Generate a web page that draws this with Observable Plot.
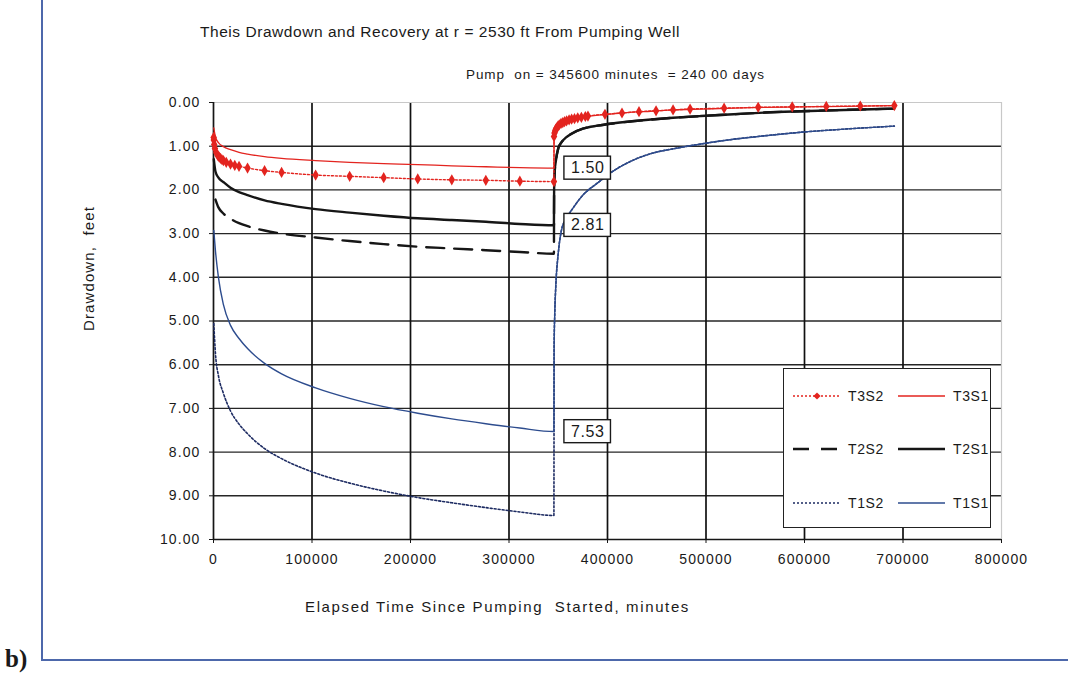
<!DOCTYPE html>
<html><head><meta charset="utf-8">
<script src="https://cdn.jsdelivr.net/npm/d3@7"></script>
<script src="https://cdn.jsdelivr.net/npm/@observablehq/plot@0.6"></script>
<style>
html,body{margin:0;padding:0;background:#fff;}
#wrap{position:relative;width:1068px;height:673px;overflow:hidden;font-family:"Liberation Sans",Arial,Helvetica,sans-serif;color:#1a1a1a;}
#wrap > svg{position:absolute;left:0;top:0;}
.ov{position:absolute;white-space:nowrap;line-height:1;}
</style></head><body><div id="wrap"></div>
<script>
// ---- data ----
const pumpOff = 345600;
const pumpTimes = [300, 2000, 5000, 10000, 17280, 25920, 34560, 51840, 69120, 103680, 138240, 172800, 207360, 241920, 276480, 311040, 345600];
const recTimes = [345800, 346500, 347500, 350000, 353000, 358000, 363000, 375000, 390000, 405000, 425000, 444000, 466560, 494900, 528000, 560000, 596500, 640000, 691200];

const t1s1Pump = [2.93, 3.40, 4.00, 4.62, 5.10, 5.40, 5.63, 5.97, 6.21, 6.53, 6.77, 6.96, 7.11, 7.24, 7.35, 7.45, 7.53];
const t1s1Rec  = [5.60, 4.80, 4.20, 3.45, 2.95, 2.65, 2.48, 2.12, 1.84, 1.58, 1.33, 1.17, 1.06, 0.95, 0.84, 0.76, 0.68, 0.61, 0.54];
const t1s2Pump = [5.06, 5.75, 6.25, 6.65, 7.06, 7.36, 7.58, 7.92, 8.15, 8.48, 8.71, 8.89, 9.04, 9.16, 9.27, 9.37, 9.45];
const t1s2Rec  = [5.60, 4.80, 4.20, 3.45, 2.95, 2.65, 2.48, 2.12, 1.84, 1.58, 1.33, 1.17, 1.06, 0.95, 0.84, 0.76, 0.68, 0.61, 0.54];

const t2s1Pump = [1.30, 1.58, 1.72, 1.82, 1.95, 2.05, 2.12, 2.24, 2.32, 2.44, 2.52, 2.59, 2.65, 2.69, 2.73, 2.78, 2.81];
const t2s1Rec  = [2.00, 1.55, 1.35, 1.05, 0.92, 0.80, 0.72, 0.60, 0.53, 0.48, 0.43, 0.39, 0.35, 0.31, 0.27, 0.23, 0.20, 0.17, 0.14];
const t2s2Pump = [null, 2.22, 2.40, 2.54, 2.66, 2.76, 2.83, 2.93, 3.00, 3.09, 3.17, 3.24, 3.30, 3.34, 3.38, 3.42, 3.46];
const t2s2Rec  = [2.00, 1.55, 1.35, 1.05, 0.92, 0.80, 0.72, 0.60, 0.53, 0.48, 0.43, 0.39, 0.35, 0.31, 0.27, 0.23, 0.20, 0.17, 0.14];

const t3s1Pump = [0.58, 0.79, 0.92, 1.01, 1.08, 1.14, 1.18, 1.24, 1.28, 1.33, 1.37, 1.40, 1.42, 1.45, 1.47, 1.49, 1.50];
const t3s1Rec  = [0.78, 0.68, 0.62, 0.54, 0.48, 0.42, 0.38, 0.33, 0.29, 0.26, 0.22, 0.20, 0.17, 0.15, 0.13, 0.11, 0.10, 0.09, 0.07];

const t3s2Times = [150, 300, 720, 1440, 2880, 4320, 5760, 7200, 8640, 10080, 12960, 17280, 21600, 25920, 34560, 51840, 69120, 103680, 138240, 172800, 207360, 241920, 276480, 311040, 345600,
  345700, 346200, 346800, 347500, 348500, 349700, 351000, 352800, 354600, 356400, 358500, 361000, 363600, 366500, 369800, 373500, 377500, 380160, 397440, 414720, 432000, 449280, 466560, 483840, 518400, 552960, 587520, 622080, 656640, 691200];
const t3s2Vals = [0.80, 0.86, 0.96, 1.05, 1.15, 1.21, 1.25, 1.28, 1.31, 1.33, 1.37, 1.41, 1.44, 1.46, 1.50, 1.56, 1.60, 1.66, 1.69, 1.72, 1.75, 1.77, 1.78, 1.80, 1.81,
  0.78, 0.70, 0.65, 0.61, 0.58, 0.54, 0.51, 0.48, 0.46, 0.44, 0.42, 0.40, 0.38, 0.37, 0.35, 0.34, 0.32, 0.31, 0.27, 0.24, 0.21, 0.19, 0.17, 0.15, 0.13, 0.11, 0.10, 0.09, 0.08, 0.07];

const labelValues = [1.50, 2.81, 7.53];
const xTicks = [0, 100000, 200000, 300000, 400000, 500000, 600000, 700000, 800000];
const yTicks = [0, 1, 2, 3, 4, 5, 6, 7, 8, 9, 10];
const legendNames = ["T3S2", "T3S1", "T2S2", "T2S1", "T1S2", "T1S1"];

// ---- build tables ----
function series(name, times, vals) {
  return times.map((t, i) => ({series: name, t, v: vals[i]})).filter(d => d.v != null);
}
const allTimes = pumpTimes.concat(recTimes);
const T1S1 = series("T1S1", allTimes, t1s1Pump.concat(t1s1Rec));
const T1S2 = series("T1S2", allTimes, t1s2Pump.concat(t1s2Rec));
const T2S1 = series("T2S1", allTimes, t2s1Pump.concat(t2s1Rec));
const T2S2 = series("T2S2", allTimes, t2s2Pump.concat(t2s2Rec));
const T3S1 = series("T3S1", allTimes, t3s1Pump.concat(t3s1Rec));
const T3S2 = series("T3S2", t3s2Times, t3s2Vals);
const labels = labelValues.map(v => ({t: pumpOff, v}));

const RED = "#e3241f", BLACK = "#161616", BLUE = "#2d4c8e", NAVY = "#1d2b62";
const FONT = '"Liberation Sans", Arial, Helvetica, sans-serif';

const chart = Plot.plot({
  width: 1068, height: 673,
  marginLeft: 213, marginRight: 67, marginTop: 102, marginBottom: 134,
  x: {domain: [0, 800000], axis: null},
  y: {domain: [0, 10], reverse: true, axis: null},
  style: {fontFamily: FONT, fontSize: "14px", color: "#1a1a1a", background: "transparent", overflow: "visible"},
  marks: [
    Plot.gridY(yTicks.slice(1, 10), {stroke: "#262626", strokeOpacity: 1, strokeWidth: 1.4}),
    Plot.gridX(xTicks.slice(1, 8), {stroke: "#111", strokeOpacity: 1, strokeWidth: 1.7}),
    Plot.ruleY([0], {stroke: "#c8c8c8", strokeWidth: 1.2}),
    Plot.ruleX([800000], {stroke: "#c8c8c8", strokeWidth: 1.2}),
    Plot.axisY({ticks: yTicks, tickFormat: d3.format(".2f"), tickSize: 4, tickPadding: 9, fontSize: 14, label: null, stroke: BLACK}),
    Plot.axisX({ticks: xTicks, tickFormat: d => String(d), tickSize: 4, tickPadding: 11, fontSize: 14, label: null, stroke: BLACK}),
    Plot.ruleX([0], {stroke: BLACK, strokeWidth: 1.7}),
    Plot.ruleY([10], {stroke: BLACK, strokeWidth: 1.7}),
    Plot.line(T1S2, {x: "t", y: "v", stroke: NAVY, strokeWidth: 1.6, strokeDasharray: "2,2", curve: "monotone-x"}),
    Plot.line(T1S1, {x: "t", y: "v", stroke: BLUE, strokeWidth: 1.4, curve: "monotone-x"}),
    Plot.line(T2S2, {x: "t", y: "v", stroke: BLACK, strokeWidth: 2.4, strokeDasharray: "18,10", curve: "monotone-x"}),
    Plot.line(T2S1, {x: "t", y: "v", stroke: BLACK, strokeWidth: 2.4, curve: "monotone-x"}),
    Plot.line(T3S1, {x: "t", y: "v", stroke: RED, strokeWidth: 1.3, curve: "monotone-x"}),
    Plot.line(T3S2, {x: "t", y: "v", stroke: RED, strokeWidth: 1.4, strokeDasharray: "2,2", curve: "monotone-x"}),
    Plot.dot(T3S2, {x: "t", y: "v", symbol: "diamond", r: 3.4, fill: RED, stroke: "none"}),
    Plot.text(labels, {x: "t", y: "v", text: d => d.v.toFixed(2), textAnchor: "start", dx: 17, fontSize: 16, fill: "#1a1a1a"})
  ]
});
const wrap = document.getElementById("wrap");
wrap.appendChild(chart);

// tick label spacing
chart.querySelectorAll('g[aria-label$="tick label"] text').forEach(t => t.style.letterSpacing = "1.1px");

// boxes behind value labels
chart.querySelectorAll('g[aria-label="text"] text').forEach(t => {
  t.style.letterSpacing = "0.6px";
  const bb = t.getBBox();
  const r = document.createElementNS("http://www.w3.org/2000/svg", "rect");
  r.setAttribute("x", bb.x - 7); r.setAttribute("y", bb.y - 3);
  r.setAttribute("width", bb.width + 13); r.setAttribute("height", bb.height + 6);
  r.setAttribute("fill", "#fff"); r.setAttribute("stroke", "#1a1a1a"); r.setAttribute("stroke-width", "1.4");
  if (t.getAttribute("transform")) r.setAttribute("transform", t.getAttribute("transform"));
  t.parentNode.insertBefore(r, t);
});

// ---- overlays: frame, titles, axis labels ----
const frame = document.createElement("div");
frame.style.cssText = "position:absolute;left:41px;top:-4px;width:1040px;height:665px;box-sizing:border-box;border-left:2px solid #4d68ab;border-bottom:2px solid #4d68ab;";
wrap.appendChild(frame);

function addText(txt, css, target) {
  const d = document.createElement("div");
  d.className = "ov"; d.textContent = txt; d.style.cssText += css;
  wrap.appendChild(d);
  if (target) {
    const w = d.getBoundingClientRect().width;
    d.style.letterSpacing = ((target - w) / txt.length) + "px";
  }
  return d;
}
addText("Theis Drawdown and Recovery at r = 2530 ft From Pumping Well", "left:200px;top:24px;font-size:15.5px;", 480);
addText("Pump  on = 345600 minutes  = 240 00 days", "left:466px;top:68px;font-size:13.5px;white-space:pre;", 299);
addText("Elapsed Time Since Pumping  Started, minutes", "left:305px;top:599px;font-size:15px;white-space:pre;", 385);
const yl = addText("Drawdown,  feet", "left:0px;top:0px;font-size:15px;white-space:pre;", 125);
{
  const r = yl.getBoundingClientRect();
  yl.style.left = (88 - r.width / 2) + "px";
  yl.style.top = (268 - r.height / 2) + "px";
  yl.style.transform = "rotate(-90deg)";
}
addText("b)", "left:5px;top:646px;font-size:25px;font-weight:bold;font-family:'Liberation Serif','Times New Roman',serif;");

// ---- legend ----
const NS = "http://www.w3.org/2000/svg";
const leg = document.createElement("div");
leg.style.cssText = "position:absolute;left:783px;top:368px;width:208px;height:160px;box-sizing:border-box;border:1.8px solid #222;background:#fff;";
wrap.appendChild(leg);
const ls = document.createElementNS(NS, "svg");
ls.setAttribute("width", 206); ls.setAttribute("height", 157);
ls.style.position = "absolute"; ls.style.left = "0"; ls.style.top = "0";
leg.appendChild(ls);
const legendStyle = {
  T3S2: {stroke: RED, w: 1.3, dash: "2,2", marker: true},
  T3S1: {stroke: RED, w: 1.3, dash: null},
  T2S2: {stroke: BLACK, w: 2.4, dash: "16,12"},
  T2S1: {stroke: BLACK, w: 2.4, dash: null},
  T1S2: {stroke: NAVY, w: 1.5, dash: "2,2"},
  T1S1: {stroke: BLUE, w: 1.4, dash: null}
};
legendNames.forEach((name, i) => {
  const row = Math.floor(i / 2), col = i % 2;
  const yy = [27, 80, 134][row];
  const x0 = col === 0 ? 9 : 114;
  const st = legendStyle[name];
  const ln = document.createElementNS(NS, "line");
  ln.setAttribute("x1", x0); ln.setAttribute("x2", x0 + 47);
  ln.setAttribute("y1", yy); ln.setAttribute("y2", yy);
  ln.setAttribute("stroke", st.stroke); ln.setAttribute("stroke-width", st.w);
  if (st.dash) ln.setAttribute("stroke-dasharray", st.dash);
  ls.appendChild(ln);
  if (st.marker) {
    const p = document.createElementNS(NS, "path");
    const cx = x0 + 24, s = 3.6;
    p.setAttribute("d", `M${cx},${yy - s}L${cx + s},${yy}L${cx},${yy + s}L${cx - s},${yy}Z`);
    p.setAttribute("fill", RED);
    ls.appendChild(p);
  }
  const tx = document.createElementNS(NS, "text");
  tx.setAttribute("x", x0 + 55); tx.setAttribute("y", yy);
  tx.setAttribute("dominant-baseline", "central");
  tx.setAttribute("font-size", "14"); tx.setAttribute("font-family", FONT);
  tx.setAttribute("fill", "#1a1a1a");
  tx.style.letterSpacing = "0.6px";
  tx.textContent = name;
  ls.appendChild(tx);
});
</script></body></html>
